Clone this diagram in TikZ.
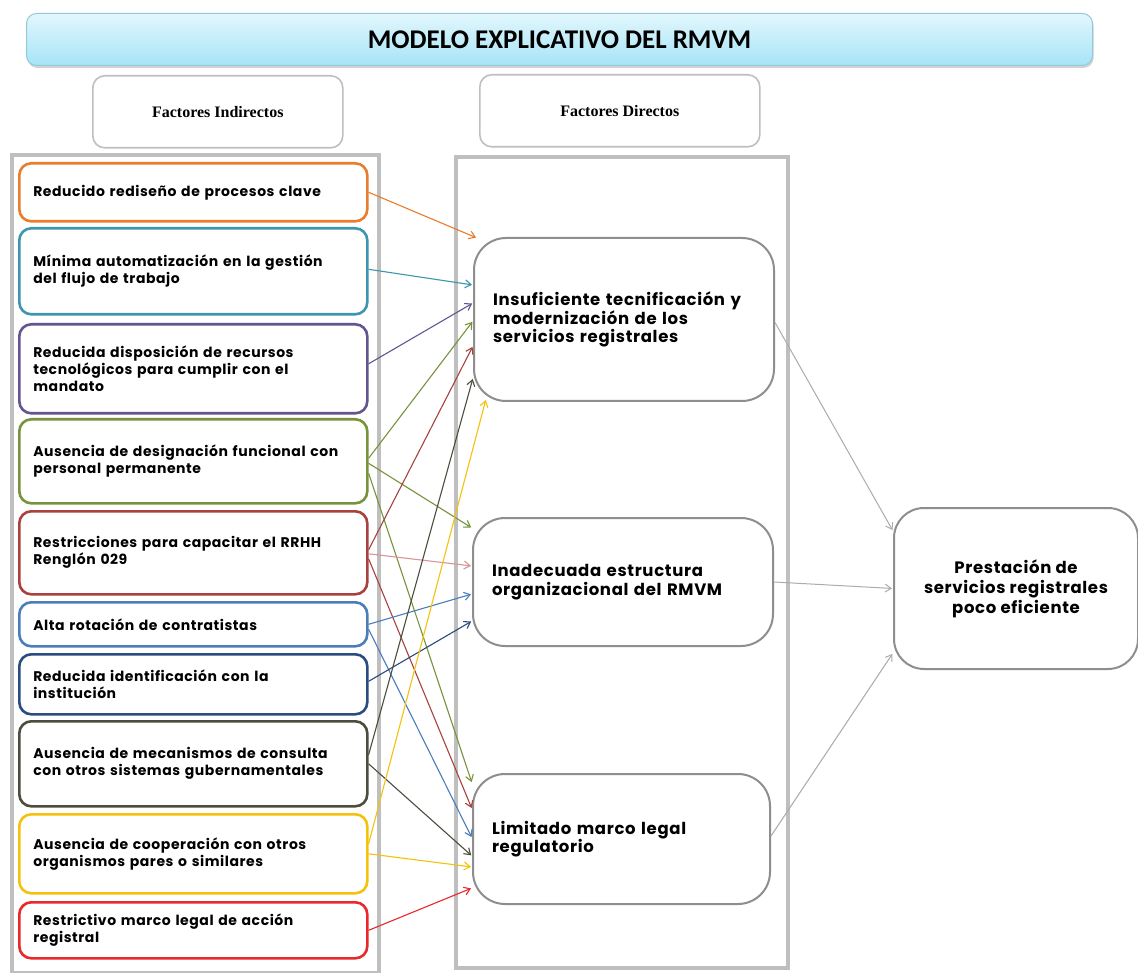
\documentclass[tikz,border=0pt]{standalone}
\usepackage{fontspec}
\usetikzlibrary{arrows.meta,shadows}
\newfontfamily\popf{Poppins}[LetterSpace=4.0]
\newfontfamily\carl{Carlito}
\newfontfamily\tms{Liberation Serif}
\definecolor{orangeC}{HTML}{E87D2E}
\definecolor{tealC}{HTML}{3E95AE}
\definecolor{purpleC}{HTML}{65558F}
\definecolor{greenC}{HTML}{77933C}
\definecolor{brownC}{HTML}{A8423F}
\definecolor{pinkC}{HTML}{D9959A}
\definecolor{blueC}{HTML}{4A7EBB}
\definecolor{navyC}{HTML}{2B4C7E}
\definecolor{darkC}{HTML}{4D4D3D}
\definecolor{yellowC}{HTML}{F4C20D}
\definecolor{redC}{HTML}{E8282B}
\definecolor{panelC}{HTML}{BFBFBF}
\definecolor{midC}{HTML}{8E8E8E}
\definecolor{bannerTop}{HTML}{E2F7FD}
\definecolor{bannerBot}{HTML}{A6E4F7}
\definecolor{bannerLine}{HTML}{93C9D8}
\begin{document}
\begin{tikzpicture}[x=1pt,y=-1pt,
  banner/.style={rounded corners=10pt, top color=bannerTop, bottom color=bannerBot,
    draw=bannerLine, line width=1pt, anchor=north west, inner sep=0pt,
    drop shadow={shadow xshift=1pt, shadow yshift=-2.5pt, opacity=.35},
    font=\carl\bfseries\fontsize{27}{30}\selectfont},
  fbox/.style={draw=panelC, line width=1.6pt, rounded corners=12pt, fill=white,
    anchor=north west, inner sep=0pt, font=\tms\bfseries\fontsize{16}{18}\selectfont},
  panel/.style={draw=panelC, line width=4pt, anchor=north west, inner sep=0pt},
  lbox/.style={draw=#1, line width=2.6pt, rounded corners=12pt, fill=white,
    anchor=north west, inner xsep=14pt, inner ysep=0pt, text width=320pt, align=left,
    font=\popf\bfseries\fontsize{14}{17}\selectfont},
  mbox/.style={draw=midC, line width=2pt, rounded corners=32pt, fill=white,
    anchor=north west, inner xsep=19pt, inner ysep=0pt, align=left,
    font=\popf\bfseries\fontsize{16.5}{18.5}\selectfont},
  rbox/.style={draw=midC, line width=2pt, rounded corners=30pt, fill=white,
    anchor=north west, inner sep=0pt, align=center,
    font=\popf\bfseries\fontsize{16.5}{20}\selectfont},
  arr/.style={draw=#1, line width=1.1pt, shorten >=1pt,
    -{Straight Barb[length=6pt,width=8pt]}},
  garr/.style={draw=panelC!90!black, line width=1pt, shorten >=1pt,
    -{Straight Barb[length=6pt,width=8pt]}}
]
\useasboundingbox (0,0) rectangle (1138,973);
\fill[white] (0,0) rectangle (1138,973);

% title and headers
\node[banner, minimum width=1066pt, minimum height=52pt] (T) at (26,13) {MODELO EXPLICATIVO DEL RMVM};
\node[fbox, minimum width=250pt, minimum height=72pt] (FI) at (92,75) {Factores Indirectos};
\node[fbox, minimum width=280pt, minimum height=72pt] (FD) at (479,74) {Factores Directos};

% panels
\node[panel, minimum width=367pt, minimum height=818pt] (PL) at (10,153) {};
\node[panel, minimum width=332pt, minimum height=811pt] (PM) at (454,155) {};

% left boxes
\node[lbox=orangeC, minimum height=58pt] (L1) at (18,162) {Reducido rediseño de procesos clave};
\node[lbox=tealC, minimum height=86pt] (L2) at (18,227) {Mínima automatización en la gestión\\del flujo de trabajo};
\node[lbox=purpleC, minimum height=89pt] (L3) at (18,323) {Reducida disposición de recursos\\tecnológicos para cumplir con el\\mandato};
\node[lbox=greenC, minimum height=84pt] (L4) at (18,418) {Ausencia de designación funcional con\\personal permanente};
\node[lbox=brownC, minimum height=83pt] (L5) at (18,510) {Restricciones para capacitar el RRHH\\Renglón 029};
\node[lbox=blueC, minimum height=44pt] (L6) at (18,601) {Alta rotación de contratistas};
\node[lbox=navyC, minimum height=60pt] (L7) at (18,653) {Reducida identificación con la\\institución};
\node[lbox=darkC, minimum height=85pt] (L8) at (18,720) {Ausencia de mecanismos de consulta\\con otros sistemas gubernamentales};
\node[lbox=yellowC, minimum height=79pt] (L9) at (18,813) {Ausencia de cooperación con otros\\organismos pares o similares};
\node[lbox=redC, minimum height=56pt] (L10) at (18,901) {Restrictivo marco legal de acción\\registral};

% middle boxes
\node[mbox, text width=262pt, minimum height=163pt] (D1) at (473,237) {Insuficiente tecnificación y\\modernización de los\\servicios registrales};
\node[mbox, text width=262pt, minimum height=128pt] (D2) at (472,517) {Inadecuada estructura\\organizacional del RMVM};
\node[mbox, text width=259pt, minimum height=130pt] (D3) at (472,773) {Limitado marco legal\\regulatorio};

% right box
\node[rbox, minimum width=244pt, minimum height=161pt] (R) at (893,507) {Prestación de\\servicios registrales\\poco eficiente};

% arrows left -> middle
\draw[arr=orangeC] (L1.east) -- ([xshift=4pt,yshift=-1pt]D1.north west);
\draw[arr=tealC] ([yshift=2pt]L2.east) -- ([yshift=34.5pt]D1.west);
\draw[arr=purpleC] ([yshift=5pt]L3.east) -- ([yshift=16.5pt]D1.west);
\draw[arr=greenC] ([yshift=3pt]L4.east) -- ([yshift=-1.5pt]D1.west);
\draw[arr=greenC] ([yshift=-2pt]L4.east) -- ([yshift=-11pt]D2.north west);
\draw[arr=greenC] ([yshift=-12pt]L4.east) -- ([yshift=-10pt]D3.north west);
\draw[arr=brownC] ([yshift=3pt]L5.east) -- ([yshift=-26.5pt]D1.west);
\draw[arr=pinkC] ([yshift=-1pt]L5.east) -- ([yshift=16pt]D2.west);
\draw[arr=brownC] ([yshift=-6pt]L5.east) -- ([yshift=30pt]D3.west);
\draw[arr=blueC] (L6.east) -- ([yshift=-12pt]D2.west);
\draw[arr=blueC] ([yshift=-5pt]L6.east) -- ([yshift=1pt]D3.west);
\draw[arr=navyC] ([yshift=3pt]L7.east) -- ([yshift=-39pt]D2.west);
\draw[arr=darkC] ([yshift=9pt]L8.east) -- ([yshift=-58.5pt]D1.west);
\draw[arr=darkC] (L8.east) -- ([yshift=-17pt]D3.west);
\draw[arr=yellowC] ([yshift=10pt]L9.east) -- ([xshift=13pt,yshift=3pt]D1.south west);
\draw[arr=yellowC] (L9.east) -- ([yshift=-28pt]D3.west);
\draw[arr=redC] (L10.east) -- ([yshift=-49pt]D3.west);

% arrows middle -> right
\draw[garr] ([yshift=-3pt]D1.east) -- ([yshift=57.5pt]R.west);
\draw[garr] (D2.east) -- (R.west);
\draw[garr] ([yshift=3pt]D3.east) -- ([yshift=-64.5pt]R.west);
\end{tikzpicture}
\end{document}
